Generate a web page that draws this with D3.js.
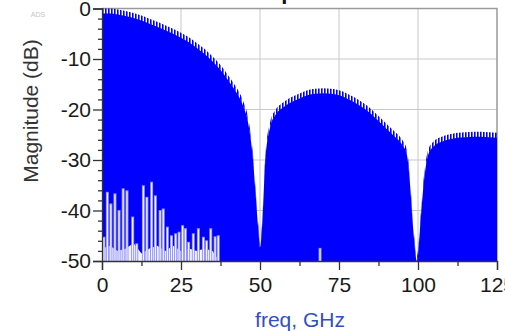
<!DOCTYPE html>
<html>
<head>
<meta charset="utf-8">
<script src="https://cdn.jsdelivr.net/npm/d3@7"></script>
<style>
  body { margin: 0; background: #fff; }
  svg { display: block; font-family: "Liberation Sans", Arial, sans-serif; }
</style>
</head>
<body>
<div id="container"></div>
<script>
/* CONSTANTS AND GLOBALS */
const width = 505,
  height = 331,
  margin = { top: 8.5, bottom: 70, left: 102, right: 8 }

// spectrum envelope, dB at the foot of the comb teeth
const envFreq = [0, 2.5, 5, 7.5, 10, 12.5, 15, 17.5, 20, 22.5, 25, 27.5, 30, 32.5, 35, 37.5, 40, 42.5,
  44.6, 46.2, 47.8, 48.7, 49.5, 50, 50.6, 51.6, 53.2, 55, 57.5, 60, 62.5, 65, 67.5, 70, 72.5, 75, 77.5,
  80, 82.5, 85, 87.5, 90, 92.5, 95, 96.5, 97.5, 98.4, 99.7, 100.6, 101.6, 103.2, 105, 107.5, 110, 112.5,
  115, 117.5, 120, 122.5, 125]
const envDb = [-1.0, -1.0, -1.2, -1.5, -1.9, -2.4, -3.0, -3.6, -4.3, -5.0, -5.8, -6.7, -7.8, -9.0, -10.5, -12.2, -14.3, -16.6,
  -19.2, -22.5, -30, -37.5, -44, -47.3, -44, -31, -23.5, -21, -19.5, -18.5, -17.8, -17.2, -16.9, -16.8, -16.9, -17.2, -17.8,
  -18.6, -19.6, -20.8, -22.3, -23.8, -25.3, -27.0, -29, -35, -43, -50, -44, -36, -29, -27.3, -26.4, -25.9, -25.6,
  -25.5, -25.4, -25.4, -25.5, -25.6]

// white gaps rising from the floor at low frequency
const spikeFreq = [0.6, 1.7, 2.8, 4.1, 5.4, 6.7, 7.9, 9.7, 11.0, 13.1, 14.2, 15.7, 16.9, 18.4, 19.4, 20.7, 22.0,
  23.3, 24.4, 25.5, 26.4, 27.4, 28.9, 30.5, 32.1, 33.1, 34.4, 35.8, 36.8, 69.0]
const spikeDb = [-45.2, -36.3, -38.6, -36.6, -39.9, -35.6, -36.0, -41.2, -46.5, -35.0, -37.3, -34.3, -37.0, -39.9, -39.6, -43.2, -44.9,
  -44.5, -44.2, -42.9, -43.5, -46.2, -44.5, -43.5, -45.2, -45.9, -43.5, -45.1, -44.9, -47.4]

const floorFreq = [0, 2.5, 5, 7.5, 10, 12.5, 15, 17.5, 20, 22.5, 25, 27.5, 30, 32.5, 35, 37]
const floorDb = [-47.5, -47, -48, -47.5, -46.5, -48.5, -47.5, -47, -48, -47, -48, -47.5, -48, -47.5, -48, -49.9]

const xTicks = [0, 25, 50, 75, 100, 125]
const xMinor = [12.5, 37.5, 62.5, 87.5, 112.5]
const yTicks = [0, -10, -20, -30, -40, -50]
const yMinor = d3.range(-48, 0, 2).filter(v => v % 10 !== 0)

const envelope = envFreq.map((f, i) => ({ f, db: envDb[i] }))
const floor = floorFreq.map((f, i) => ({ f, db: floorDb[i] }))
const spikes = spikeFreq.map((f, i) => ({ f, db: spikeDb[i] }))

// + SCALES
const xScale = d3.scaleLinear()
  .domain([0, 125])
  .range([margin.left, width - margin.right])

const yScale = d3.scaleLinear()
  .domain([-50, 0])
  .range([height - margin.bottom, margin.top])

// CREATE SVG ELEMENT
const svg = d3.select("#container")
  .append("svg")
  .attr("width", width)
  .attr("height", height)

// comb texture for the top of the spectrum
svg.append("defs").append("pattern")
  .attr("id", "comb")
  .attr("patternUnits", "userSpaceOnUse")
  .attr("width", 3)
  .attr("height", 20)
  .append("rect")
  .attr("width", 1.6)
  .attr("height", 20)
  .attr("fill", "#0000f5")

// GRID
svg.append("g")
  .selectAll("line")
  .data(xTicks.slice(1, -1))
  .join("line")
  .attr("x1", d => xScale(d)).attr("x2", d => xScale(d))
  .attr("y1", yScale(0)).attr("y2", yScale(-50))
  .attr("stroke", "#c8c8c8")

svg.append("g")
  .selectAll("line")
  .data(yTicks.slice(1, -1))
  .join("line")
  .attr("x1", xScale(0)).attr("x2", xScale(125))
  .attr("y1", d => yScale(d)).attr("y2", d => yScale(d))
  .attr("stroke", "#c8c8c8")

// frame top + right
svg.append("path")
  .attr("d", `M${xScale(0)},${yScale(0)}H${xScale(125)}V${yScale(-50)}`)
  .attr("fill", "none")
  .attr("stroke", "#9a9a9a")
  .attr("stroke-width", 1.5)

// SPECTRUM AREA
const area = d3.area()
  .x(d => xScale(d.f))
  .y0(yScale(-50))
  .y1(d => yScale(d.db))
  .curve(d3.curveMonotoneX)

svg.append("path")
  .datum(envelope)
  .attr("fill", "#0000ff")
  .attr("d", area)

// teeth band on top of the envelope
const band = d3.area()
  .x(d => xScale(d.f))
  .y0(d => yScale(d.db) + 0.5)
  .y1(d => yScale(d.db) - 5)
  .curve(d3.curveMonotoneX)

svg.append("path")
  .datum(envelope)
  .attr("fill", "url(#comb)")
  .attr("d", band)

// low-frequency floor and gaps
svg.append("path")
  .datum(floor)
  .attr("fill", "#f4f4ff")
  .attr("d", d3.area().x(d => xScale(d.f)).y0(yScale(-50)).y1(d => yScale(d.db)))

const spikeG = svg.append("g")
spikeG.selectAll(".halo")
  .data(spikes)
  .join("line")
  .attr("class", "halo")
  .attr("x1", d => xScale(d.f)).attr("x2", d => xScale(d.f))
  .attr("y1", yScale(-50)).attr("y2", d => yScale(d.db))
  .attr("stroke", "#8c8cff")
  .attr("stroke-width", 3)

spikeG.selectAll(".core")
  .data(spikes)
  .join("line")
  .attr("class", "core")
  .attr("x1", d => xScale(d.f)).attr("x2", d => xScale(d.f))
  .attr("y1", yScale(-50)).attr("y2", d => yScale(d.db) + 1)
  .attr("stroke", "#f6f6ff")
  .attr("stroke-width", 1.2)

// BUILD AND CALL AXES
const xAxis = d3.axisBottom(xScale)
  .tickValues(xTicks)
  .tickSize(9)
  .tickPadding(7)
  .tickFormat(d => String(d))

const xAxisGroup = svg.append("g")
  .attr("transform", `translate(0, ${height - margin.bottom})`)
  .call(xAxis)

svg.append("g")
  .attr("transform", `translate(0, ${height - margin.bottom})`)
  .call(d3.axisBottom(xScale).tickValues(xMinor).tickSize(5).tickFormat(""))
  .call(g => g.select(".domain").remove())

const yAxis = d3.axisLeft(yScale)
  .tickValues(yTicks)
  .tickSize(9)
  .tickPadding(2)
  .tickFormat(d => String(d))

const yAxisGroup = svg.append("g")
  .attr("transform", `translate(${margin.left}, 0)`)
  .call(yAxis)

svg.append("g")
  .attr("transform", `translate(${margin.left}, 0)`)
  .call(d3.axisLeft(yScale).tickValues(yMinor).tickSize(4).tickFormat(""))
  .call(g => g.select(".domain").remove())

svg.selectAll(".tick line, .domain")
  .attr("stroke", "#333")
  .attr("stroke-width", 1.3)

svg.selectAll(".tick text")
  .style("font-size", "21px")
  .attr("fill", "#1a1a1a")

// LABELS
svg.append("text")
  .attr("transform", `translate(38, 111) rotate(-90)`)
  .attr("text-anchor", "middle")
  .style("font-size", "21px")
  .attr("fill", "#333")
  .text("Magnitude (dB)")

svg.append("text")
  .attr("x", 300)
  .attr("y", 327)
  .attr("text-anchor", "middle")
  .style("font-size", "21px")
  .attr("fill", "#3050c0")
  .text("freq, GHz")

svg.append("text")
  .attr("x", 38)
  .attr("y", 17)
  .attr("text-anchor", "middle")
  .style("font-size", "7px")
  .attr("fill", "#c4c4c4")
  .text("ADS")

// title sits above the picture, only its descender shows
svg.append("text")
  .attr("x", 266.5)
  .attr("y", -1.5)
  .style("font-size", "22px")
  .style("font-weight", "bold")
  .attr("fill", "#111")
  .text("Spectrum")
</script>
</body>
</html>
